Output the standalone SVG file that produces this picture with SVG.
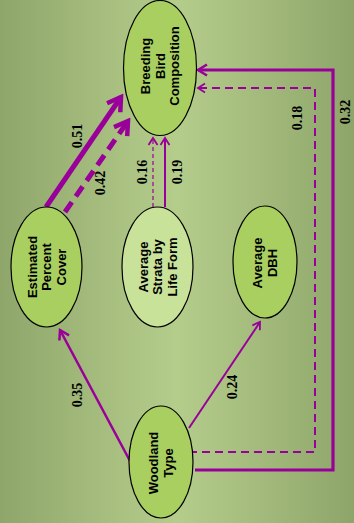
<svg xmlns="http://www.w3.org/2000/svg" width="354" height="523" viewBox="0 0 354 523">
<defs>
<linearGradient id="bg" x1="0" y1="0" x2="1" y2="0">
<stop offset="0" stop-color="#8fa66b"/>
<stop offset="0.5" stop-color="#b5cd8b"/>
<stop offset="1" stop-color="#8ea56a"/>
</linearGradient>
<marker id="mBig" markerUnits="userSpaceOnUse" viewBox="-20 -12 24 24" markerWidth="24" markerHeight="24" refX="0" refY="0" orient="auto">
<path d="M-13,-8 L0,0 L-13,8" fill="none" stroke="#990099" stroke-width="4.5"/>
</marker>
<marker id="mMed" markerUnits="userSpaceOnUse" viewBox="-16 -10 20 20" markerWidth="20" markerHeight="20" refX="0" refY="0" orient="auto">
<path d="M-9,-5.5 L0,0 L-9,5.5" fill="none" stroke="#990099" stroke-width="2.5"/>
</marker>
<marker id="mSm" markerUnits="userSpaceOnUse" viewBox="-16 -10 20 20" markerWidth="20" markerHeight="20" refX="0" refY="0" orient="auto">
<path d="M-7,-4.5 L0,0 L-7,4.5" fill="none" stroke="#990099" stroke-width="1.8"/>
</marker>
</defs>
<style>
.node{stroke:#000;stroke-width:1.2;fill:#a8cf5f}
.light{fill:#c9e29a}
.nt{font-family:"Liberation Sans",Arial,sans-serif;font-weight:bold;font-size:13px;text-anchor:middle;fill:#000}
.lab{font-family:"Liberation Serif","Times New Roman",serif;font-weight:bold;font-size:14px;text-anchor:middle;dominant-baseline:central;fill:#000}
.c{fill:none;stroke:#990099}
</style>
<rect x="0" y="0" width="354" height="523" fill="url(#bg)"/>
<g id="connectors">
<path class="c" d="M46,207 L121,97" stroke-width="5" marker-end="url(#mBig)"/>
<path class="c" d="M65,212 L128,121" stroke-width="5" stroke-dasharray="12,7" marker-end="url(#mBig)"/>
<path class="c" d="M153,207 L153,138" stroke-width="1.2" stroke-dasharray="4,3" marker-end="url(#mSm)"/>
<path class="c" d="M165,207 L165,138" stroke-width="2" marker-end="url(#mSm)"/>
<path class="c" d="M130,461 L60,330" stroke-width="2.5" marker-end="url(#mMed)"/>
<path class="c" d="M189,428 L260,322" stroke-width="2" marker-end="url(#mSm)"/>
<path class="c" d="M189,452 L315,452 L315,88 L198,88" stroke-width="2" stroke-dasharray="8,5" marker-end="url(#mSm)"/>
<path class="c" d="M195,470 L333,470 L333,70 L198,70" stroke-width="3.2" marker-end="url(#mMed)"/>
<text class="lab" transform="translate(77,136) rotate(-90)">0.51</text>
<text class="lab" transform="translate(100,183) rotate(-90)">0.42</text>
<text class="lab" transform="translate(142,172) rotate(-90)">0.16</text>
<text class="lab" transform="translate(177,172) rotate(-90)">0.19</text>
<text class="lab" transform="translate(297,118) rotate(-90)">0.18</text>
<text class="lab" transform="translate(345,112) rotate(-90)">0.32</text>
<text class="lab" transform="translate(77,395) rotate(-90)">0.35</text>
<text class="lab" transform="translate(232,387) rotate(-90)">0.24</text>
</g>
<g id="breeding">
<ellipse class="node" cx="160" cy="68" rx="36.5" ry="67.5"/>
<text class="nt" transform="translate(160,66) rotate(-90)"><tspan x="0" y="-10">Breeding</tspan><tspan x="0" y="4.5">Bird</tspan><tspan x="0" y="19">Composition</tspan></text>
</g>
<g id="estimated">
<ellipse class="node" cx="46.5" cy="267" rx="35.5" ry="60"/>
<text class="nt" transform="translate(46.5,267) rotate(-90)"><tspan x="0" y="-10">Estimated</tspan><tspan x="0" y="4.5">Percent</tspan><tspan x="0" y="19">Cover</tspan></text>
</g>
<g id="strata">
<ellipse class="node light" cx="157.5" cy="267" rx="35.5" ry="60"/>
<text class="nt" transform="translate(157.5,267) rotate(-90)"><tspan x="0" y="-10">Average</tspan><tspan x="0" y="4.5">Strata by</tspan><tspan x="0" y="19">Life Form</tspan></text>
</g>
<g id="dbh">
<ellipse class="node" cx="265" cy="262" rx="32" ry="56"/>
<text class="nt" transform="translate(265,263) rotate(-90)"><tspan x="0" y="-3">Average</tspan><tspan x="0" y="11.5">DBH</tspan></text>
</g>
<g id="woodland">
<ellipse class="node" cx="161" cy="462" rx="32" ry="56"/>
<text class="nt" transform="translate(161,463) rotate(-90)"><tspan x="0" y="-3">Woodland</tspan><tspan x="0" y="11.5">Type</tspan></text>
</g>
</svg>
